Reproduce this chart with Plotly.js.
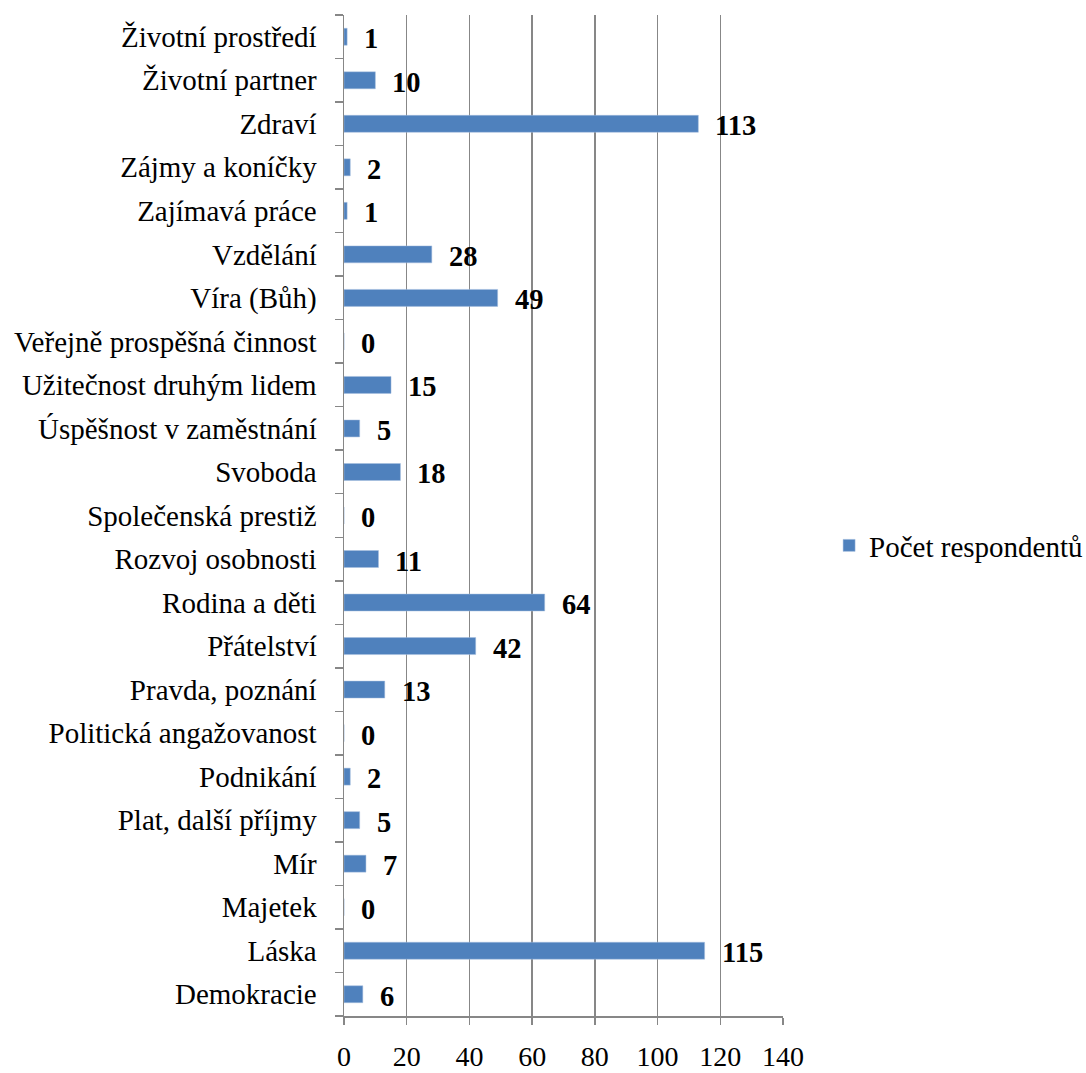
<!DOCTYPE html>
<html>
<head>
<meta charset="utf-8">
<script src="https://cdn.plot.ly/plotly-3.0.1.min.js"></script>
<style>html,body{margin:0;padding:0;background:#fff;font-family:'Liberation Serif',serif;}#chart{width:1086px;height:1073px;}</style>
</head>
<body>
<div id="chart"></div>
<script>
const categories = [
  "Demokracie", "Láska", "Majetek", "Mír", "Plat, další příjmy", "Podnikání",
  "Politická angažovanost", "Pravda, poznání", "Přátelství", "Rodina a děti",
  "Rozvoj osobnosti", "Společenská prestiž", "Svoboda", "Úspěšnost v zaměstnání",
  "Užitečnost druhým lidem", "Veřejně prospěšná činnost", "Víra (Bůh)", "Vzdělání",
  "Zajímavá práce", "Zájmy a koníčky", "Zdraví", "Životní partner", "Životní prostředí"
];
const respondents = [6, 115, 0, 7, 5, 2, 0, 13, 42, 64, 11, 0, 18, 5, 15, 0, 49, 28, 1, 2, 113, 10, 1];
const seriesName = "Počet respondentů";
const xTicks = [0, 20, 40, 60, 80, 100, 120, 140];

const FONT = "Liberation Serif";

const trace = {
  type: "bar",
  orientation: "h",
  x: respondents,
  y: categories,
  name: seriesName,
  marker: { color: "#4F81BD", line: { color: "#A7BFDE", width: 0.5 } },
  showlegend: true,
  hoverinfo: "x+y"
};

const annotations = respondents.map((v, i) => ({
  x: v,
  y: categories[i],
  xref: "x",
  yref: "y",
  text: "<b>" + v + "</b>",
  showarrow: false,
  xanchor: "left",
  yanchor: "middle",
  xshift: 15,
  yshift: -2,
  font: { family: FONT, size: 28.5, color: "#000" }
}));

const layout = {
  width: 1086,
  height: 1073,
  margin: { l: 344, r: 303, t: 15, b: 57, pad: 0, autoexpand: false },
  paper_bgcolor: "#fff",
  plot_bgcolor: "#fff",
  font: { family: FONT, size: 29, color: "#000" },
  bargap: 0.61,
  xaxis: {
    range: [0, 140],
    tickvals: xTicks,
    ticktext: xTicks.map(String),
    showgrid: true,
    gridcolor: "#878787",
    gridwidth: 1.5,
    zeroline: false,
    showline: true,
    linecolor: "#878787",
    linewidth: 1.5,
    ticks: "outside",
    ticklen: 7,
    tickwidth: 1.5,
    tickcolor: "#878787",
    ticklabelstandoff: 8,
    tickfont: { family: FONT, size: 28, color: "#000" },
    fixedrange: true
  },
  yaxis: {
    type: "category",
    categoryorder: "array",
    categoryarray: categories,
    tickson: "boundaries",
    ticks: "outside",
    ticklen: 8,
    tickwidth: 1.5,
    tickcolor: "#878787",
    showline: true,
    linecolor: "#878787",
    linewidth: 1.5,
    showgrid: false,
    zeroline: false,
    ticklabelstandoff: 20,
    tickfont: { family: FONT, size: 29, color: "#000" },
    fixedrange: true
  },
  legend: {
    x: 1.105,
    xanchor: "left",
    y: 0.47,
    yanchor: "middle",
    font: { family: FONT, size: 29, color: "#000" },
    bgcolor: "rgba(0,0,0,0)",
    itemwidth: 30
  },
  annotations: annotations
};

// warm up the serif face before Plotly measures its texts
const cv = document.createElement("canvas").getContext("2d");
cv.font = "29px 'Liberation Serif'";
cv.measureText(seriesName);
const loads = document.fonts && document.fonts.load
  ? Promise.all([document.fonts.load("29px 'Liberation Serif'"), document.fonts.load("bold 29px 'Liberation Serif'")]).catch(() => null)
  : Promise.resolve();
loads.then(() => {
  Plotly.newPlot("chart", [trace], layout, { displayModeBar: false, staticPlot: true });
});
</script>
</body>
</html>
